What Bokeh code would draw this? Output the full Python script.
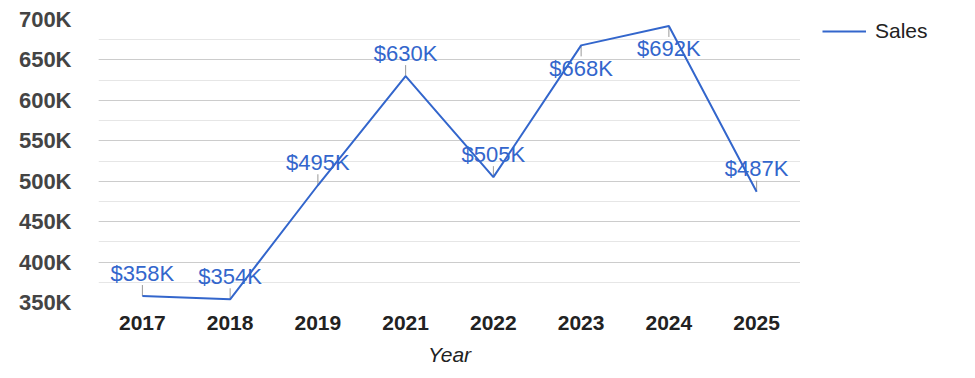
from bokeh.plotting import figure
from bokeh.layouts import row
from bokeh.models import (FactorRange, Range1d, SingleIntervalTicker, PrintfTickFormatter,
                          ColumnDataSource, Legend, LegendItem)
from bokeh.core.properties import value
from bokeh.embed import file_html
from bokeh.resources import INLINE

years = ["2017", "2018", "2019", "2021", "2022", "2023", "2024", "2025"]
sales_k = [358, 354, 495, 630, 505, 668, 692, 487]
label_side = ["above", "above", "above", "above", "above", "below", "below", "above"]
y_ticks_k = [350, 400, 450, 500, 550, 600, 650, 700]
series_name = "Sales"

FONT = "Liberation Sans"
BLUE = "#3366cc"
W, H = 975, 378
BL, BT, BB = 98, 19, 76
MAIN_W = 800
LEG_W = W - MAIN_W
frame_h = H - BT - BB
px_per_k = frame_h / (y_ticks_k[-1] - y_ticks_k[0])

p = figure(width=MAIN_W, height=H, x_range=FactorRange(factors=years),
           y_range=Range1d(y_ticks_k[0], y_ticks_k[-1]),
           output_backend="svg", toolbar_location=None,
           min_border_left=BL, min_border_right=0, min_border_top=BT, min_border_bottom=BB)
p.outline_line_color = None
p.background_fill_color = "white"

labels = ["$%dK" % v for v in sales_k]
sign = [1 if s == "above" else -1 for s in label_side]
leader_len = 11 / px_per_k
src = ColumnDataSource(dict(
    x=years, y=sales_k, lab=labels,
    yoff=[-23 * s for s in sign],
    ly1=[v + s * leader_len for v, s in zip(sales_k, sign)],
))

p.segment(x0="x", y0="y", x1="x", y1="ly1", source=src, line_color="#999999", line_width=1)
main_line = p.line(x="x", y="y", source=src, line_color=BLUE, line_width=2)
p.text(x="x", y="y", text="lab", source=src, y_offset="yoff",
       text_align="center", text_baseline="middle",
       text_font=value(FONT), text_font_size="22px", text_color=BLUE)

ticker = SingleIntervalTicker(interval=50, num_minor_ticks=2)
p.yaxis.ticker = ticker
p.yaxis.formatter = PrintfTickFormatter(format="%dK")
p.ygrid.ticker = ticker
p.ygrid.grid_line_color = "#cccccc"
p.ygrid.minor_grid_line_color = "#e6e6e6"
p.xgrid.grid_line_color = None

for ax in (p.xaxis[0], p.yaxis[0]):
    ax.axis_line_color = None
    ax.major_tick_line_color = None
    ax.minor_tick_line_color = None
    ax.major_label_text_font = FONT
    ax.major_label_text_font_style = "bold"
p.xaxis.major_label_text_font_size = "21px"
p.yaxis.major_label_text_font_size = "22px"
p.yaxis.major_label_text_color = "#444444"
p.yaxis.major_label_standoff = 21
p.xaxis.major_label_text_color = "#222222"
p.xaxis.major_label_standoff = 7
p.xaxis.axis_label = "Year"
p.xaxis.axis_label_text_font = FONT
p.xaxis.axis_label_text_font_size = "21px"
p.xaxis.axis_label_text_font_style = "italic"
p.xaxis.axis_label_text_color = "#222222"
p.xaxis.axis_label_standoff = 10

# legend panel on the right (a proxy line, kept outside its own visible range)
pl = figure(width=LEG_W, height=H, x_range=Range1d(0, 1), y_range=Range1d(0, 1),
            output_backend="svg", toolbar_location=None,
            min_border_left=22, min_border_right=0, min_border_top=18, min_border_bottom=0)
pl.axis.visible = False
pl.grid.grid_line_color = None
pl.outline_line_color = None
lr = pl.line(x=[5, 6], y=[5, 6], line_color=BLUE, line_width=2)
legend = Legend(items=[LegendItem(label=series_name, renderers=[lr])],
                location="top_left", padding=0, margin=0, spacing=0,
                border_line_color=None, background_fill_alpha=0,
                glyph_width=44, glyph_height=24, label_standoff=9,
                label_text_font=FONT, label_text_font_size="21px", label_text_color="#222222")
pl.add_layout(legend, "center")

layout = row(p, pl, spacing=0)
open("out.html", "w").write(file_html(layout, INLINE))
